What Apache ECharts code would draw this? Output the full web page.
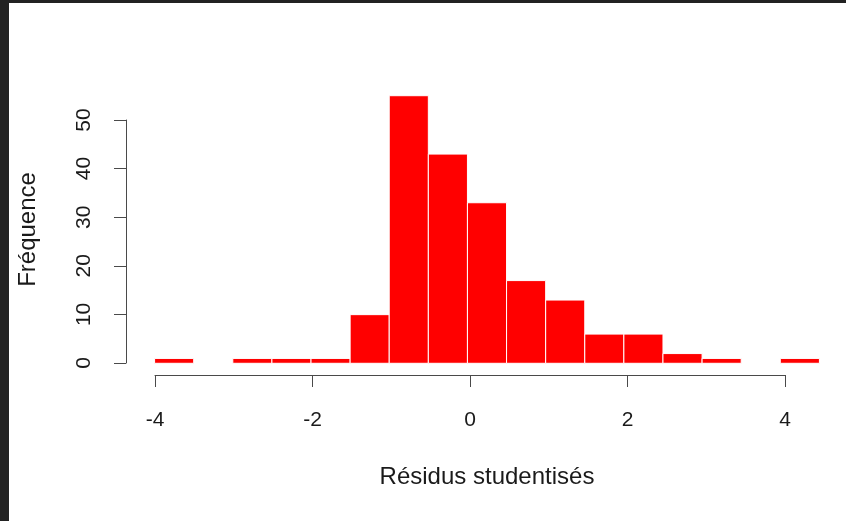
<!DOCTYPE html>
<html>
<head>
<meta charset="utf-8">
<script src="https://cdn.jsdelivr.net/npm/echarts@6/dist/echarts.min.js"></script>
<style>
html,body{margin:0;padding:0;background:#fff;}
#chart{width:846px;height:521px;}
</style>
</head>
<body>
<div id="chart"></div>
<script>
// Histogram bins (left edges), bin width and counts
const binStarts = [-4, -3.5, -3, -2.5, -2, -1.5, -1, -0.5, 0, 0.5, 1, 1.5, 2, 2.5, 3, 3.5, 4];
const binWidth = 0.5;
const counts = [1, 0, 1, 1, 1, 10, 55, 43, 33, 17, 13, 6, 6, 2, 1, 0, 1];
const xTickLabels = [-4, -2, 0, 2, 4];
const yTickLabels = [0, 10, 20, 30, 40, 50];
const xTitle = 'Résidus studentisés';
const yTitle = 'Fréquence';

const FONT = 'Liberation Sans, Arial, Helvetica, sans-serif';
const TXT = '#1a1a1a';
const AX = '#4a4a4a';

const data = binStarts.map((s, i) => [s, s + binWidth, counts[i]]);

const chart = echarts.init(document.getElementById('chart'), null, {renderer: 'canvas'});
chart.setOption({
  backgroundColor: '#ffffff',
  animation: false,
  grid: [
    {left: 128, top: 85, width: 723, height: 289},
    {left: 155, top: 85, width: 630, height: 290},
    {left: 126, top: 120, width: 300, height: 243}
  ],
  xAxis: [
    {gridIndex: 0, type: 'value', min: -4.34, max: 4.84,
     axisLine: {show: false}, axisTick: {show: false}, axisLabel: {show: false}, splitLine: {show: false},
     name: xTitle, nameLocation: 'middle', nameGap: 91,
     nameTextStyle: {fontFamily: FONT, fontSize: 24, color: TXT}},
    {gridIndex: 1, type: 'value', min: xTickLabels[0], max: xTickLabels[xTickLabels.length - 1], interval: 2,
     axisLine: {show: true, lineStyle: {color: AX, width: 1}},
     axisTick: {show: true, length: 12, lineStyle: {color: AX, width: 1}},
     axisLabel: {show: true, margin: 35, fontFamily: FONT, fontSize: 21, color: TXT},
     splitLine: {show: false}},
    {gridIndex: 2, type: 'value', show: false}
  ],
  yAxis: [
    {gridIndex: 0, type: 'value', min: -2.2, max: 57.2,
     axisLine: {show: false}, axisTick: {show: false}, axisLabel: {show: false}, splitLine: {show: false},
     name: yTitle, nameLocation: 'middle', nameGap: 88, nameRotate: 90,
     nameTextStyle: {fontFamily: FONT, fontSize: 24, color: TXT}},
    {gridIndex: 1, type: 'value', show: false},
    {gridIndex: 2, type: 'value', min: yTickLabels[0], max: yTickLabels[yTickLabels.length - 1], interval: 10,
     axisLine: {show: true, lineStyle: {color: AX, width: 1}},
     axisTick: {show: true, length: 12, lineStyle: {color: AX, width: 1}},
     axisLabel: {show: true, rotate: 90, margin: 31, fontFamily: FONT, fontSize: 21, color: TXT},
     splitLine: {show: false}}
  ],
  series: [{
    type: 'custom',
    xAxisIndex: 0, yAxisIndex: 0,
    data: data,
    renderItem: function (params, api) {
      const c = api.value(2);
      if (c <= 0) return null;
      const p0 = api.coord([api.value(0), c]);
      const p1 = api.coord([api.value(1), 0]);
      return {
        type: 'rect',
        shape: {x: p0[0], y: p0[1], width: p1[0] - p0[0], height: p1[1] - p0[1]},
        style: {fill: '#ff0000', stroke: '#ffffff', lineWidth: 1}
      };
    }
  }],
  graphic: [
    {type: 'rect', left: 0, top: 0, shape: {width: 9, height: 521}, style: {fill: '#222222'}, z: 100},
    {type: 'rect', left: 0, top: 0, shape: {width: 846, height: 3}, style: {fill: '#222222'}, z: 100}
  ]
});
</script>
</body>
</html>
